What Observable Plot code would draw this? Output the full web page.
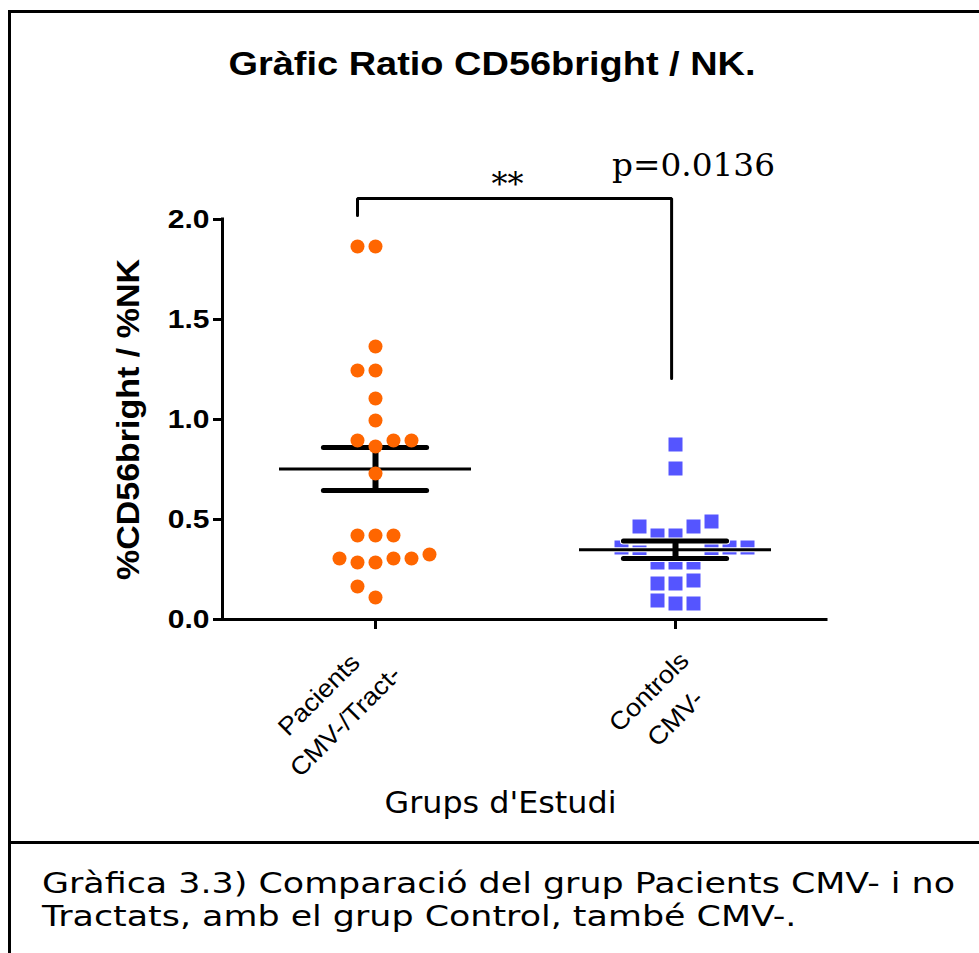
<!DOCTYPE html>
<html>
<head>
<meta charset="utf-8">
<script src="https://cdn.jsdelivr.net/npm/d3@7"></script>
<script src="https://cdn.jsdelivr.net/npm/@observablehq/plot@0.6"></script>
<style>
  html, body { margin: 0; padding: 0; background: #fff; }
  #page { position: relative; width: 979px; height: 953px; overflow: hidden; background: #fff; }
  #frame { position: absolute; left: 8px; top: 10px; width: 990px; height: 960px;
           border-left: 3px solid #000; border-top: 3px solid #000; box-sizing: border-box; }
  #sep { position: absolute; left: 8px; top: 841px; width: 990px; border-top: 3px solid #000; }
  #title { position: absolute; left: 492px; top: 47px; white-space: nowrap;
           font: bold 33px/33px "Liberation Sans", Arial, sans-serif; color: #000;
           transform-origin: 50% 50%; }
  #chart { position: absolute; left: 0; top: 90px; }
  #caption { position: absolute; left: 42px; top: 867px; font: 28px/33px "DejaVu Sans", sans-serif;
             color: #000; white-space: nowrap; }
  #caption div { transform-origin: 0 50%; }
</style>
</head>
<body>
<div id="page">
  <div id="frame"></div>
  <div id="title"></div>
  <div id="chart"></div>
  <div id="sep"></div>
  <div id="caption"></div>
</div>
<script>
// ---------- data ----------
const groups = ["Pacients\nCMV-/Tract-", "Controls\nCMV-"];
const pacients = [1.865, 1.865, 1.365, 1.245, 1.245, 1.105, 0.995, 0.865, 0.895, 0.895, 0.895,
                  0.73, 0.42, 0.42, 0.42, 0.285, 0.285, 0.305, 0.305, 0.305, 0.325, 0.11, 0.165];
const controls = [0.875, 0.755, 0.42, 0.285, 0.18, 0.08, 0.42, 0.285, 0.18, 0.095,
                  0.465, 0.285, 0.195, 0.08, 0.49, 0.465, 0.345, 0.335, 0.36, 0.36, 0.36];
const yTicks = [0, 0.5, 1.0, 1.5, 2.0];
const titleText = "Gràfic Ratio  CD56bright / NK.";
const yLabel = "%CD56bright / %NK";
const xLabel = "Grups d'Estudi";
const sigLabel = "**";
const pLabel = "p=0.0136";
// significance bracket (group-index x, value y): left leg end, top, right leg end
const bracket = [{x: -0.06, y: 2.02}, {x: -0.06, y: 2.105}, {x: 0.987, y: 2.105}, {x: 0.987, y: 1.205}];
const caption = ["Gràfica 3.3) Comparació del grup Pacients CMV- i no",
                 "Tractats, amb el grup Control, també CMV-."];

// ---------- layout helpers ----------
const SLOT = 0.06;   // horizontal spacing of swarm columns (x units)
const ROW = 0.08;    // vertical overlap threshold (y units)
const candidates = [0, -1, 1, 2, -2, 3, -3, 4, -4, 5, -5, 6, -6];
function swarm(values, g) {
  const placed = [];
  return values.map(v => {
    const s = candidates.find(c => !placed.some(p => p.s === c && Math.abs(p.v - v) < ROW));
    placed.push({s, v});
    return {g, v, x: g + s * SLOT};
  });
}
const pacPts = swarm(pacients, 0);
const conPts = swarm(controls, 1);
const stats = [pacients, controls].map((vals, g) => {
  const m = d3.mean(vals), se = d3.deviation(vals) / Math.sqrt(vals.length);
  return {g, mean: m, lo: m - se, hi: m + se};
});

const MEAN_HW = 0.32, CAP_HW = 0.172;
function statMarks(s, halo) {
  const a = [s];
  const out = [];
  const add = (stroke, extra) => {
    out.push(Plot.ruleX(a, {x: "g", y1: "lo", y2: "hi", stroke, strokeWidth: 6 + extra}));
    out.push(Plot.ruleY(a, {y: "lo", x1: d => d.g - CAP_HW, x2: d => d.g + CAP_HW, stroke, strokeWidth: 5 + extra, strokeLinecap: "round"}));
    out.push(Plot.ruleY(a, {y: "hi", x1: d => d.g - CAP_HW, x2: d => d.g + CAP_HW, stroke, strokeWidth: 5 + extra, strokeLinecap: "round"}));
    out.push(Plot.ruleY(a, {y: "mean", x1: d => d.g - MEAN_HW, x2: d => d.g + MEAN_HW, stroke, strokeWidth: 3 + extra}));
  };
  if (halo) add("#fff", 2);
  add("#000", 0);
  return out;
}

const chart = Plot.plot({
  width: 979,
  height: 750,
  marginLeft: 222,
  marginRight: 153,
  marginTop: 129,
  marginBottom: 221,
  x: {domain: [-0.51, 1.5033]},
  y: {domain: [0, 2]},
  style: {fontFamily: "'Liberation Sans', Arial, sans-serif", background: "transparent", overflow: "visible", color: "#000"},
  marks: [
    Plot.axisY(yTicks, {tickSize: 9, tickPadding: 4, strokeWidth: 3, fontSize: 25, fontWeight: "bold",
                        tickFormat: d3.format(".1f"), label: null}),
    Plot.axisX([0, 1], {tickSize: 10, strokeWidth: 3, tickFormat: () => "", label: null}),
    Plot.ruleX([-0.51], {strokeWidth: 3, strokeLinecap: "square"}),
    Plot.ruleY([0], {strokeWidth: 3, strokeLinecap: "square"}),
    ...statMarks(stats[0], false),
    Plot.dot(pacPts, {x: "x", y: "v", r: 7, fill: "#ff6600"}),
    Plot.dot(conPts, {x: "x", y: "v", r: 7.9, symbol: "square", fill: "#5555ff"}),
    ...statMarks(stats[1], true),
    Plot.line(bracket, {x: "x", y: "y", strokeWidth: 3, strokeLinejoin: "miter"}),
    Plot.text([sigLabel], {x: () => 0.44, y: () => 2.175, fontFamily: "DejaVu Serif", fontSize: 32}),
    Plot.text([pLabel], {x: () => 1.06, y: () => 2.27, fontFamily: "DejaVu Serif", fontSize: 32}),
    Plot.text([0], {x: d => d, y: () => 0, text: d => groups[d], rotate: -45, fontSize: 25,
                    textAnchor: "middle", lineAnchor: "middle", lineHeight: 1.5, dx: -46, dy: 86}),
    Plot.text([1], {x: d => d, y: () => 0, text: d => groups[d], rotate: -45, fontSize: 25,
                    textAnchor: "middle", lineAnchor: "middle", lineHeight: 1.5, dx: -16, dy: 83}),
    Plot.text([xLabel], {x: () => 0.5, y: () => 0, fontFamily: "DejaVu Sans", fontSize: 30, dx: -25, dy: 184}),
    Plot.text([yLabel], {x: () => -0.51, y: () => 1, rotate: -90, fontSize: 31, fontWeight: "bold", dx: -93})
  ]
});
document.getElementById("chart").appendChild(chart);

// ---------- text width styling (reference fonts are rendered wide) ----------
function stretch(el, s) {
  const t = el.getAttribute("transform") || "";
  el.setAttribute("transform", `${t} scale(${s},1)`);
}
function fit(el, target) { stretch(el, target / el.getBBox().width); }
const tickSet = new Set(yTicks.map(d3.format(".1f")));
const groupSet = new Set(groups.map(g => g.replace("\n", "")));
for (const el of chart.querySelectorAll("text")) {
  const s = el.textContent;
  if (tickSet.has(s)) stretch(el, 1.2);
  else if (s === yLabel) fit(el, 322);
  else if (groupSet.has(s)) stretch(el, 1.08);
  else if (s === xLabel) fit(el, 232);
  else if (s === pLabel) fit(el, 163);
  else if (s === sigLabel) stretch(el, 1.0);
}

// title
const title = document.getElementById("title");
title.textContent = titleText;
const tw = title.getBoundingClientRect().width;
title.style.transform = `translateX(-50%) scaleX(${527 / tw})`;

// caption
const cap = document.getElementById("caption");
const lines = caption.map(t => { const d = document.createElement("div"); d.textContent = t; cap.appendChild(d); return d; });
const span = document.createElement("span");
span.textContent = caption[0];
span.style.visibility = "hidden";
cap.appendChild(span);
const cw = span.getBoundingClientRect().width;
span.remove();
const cs = 913 / cw;
for (const d of lines) d.style.transform = `scaleX(${cs})`;
</script>
</body>
</html>
